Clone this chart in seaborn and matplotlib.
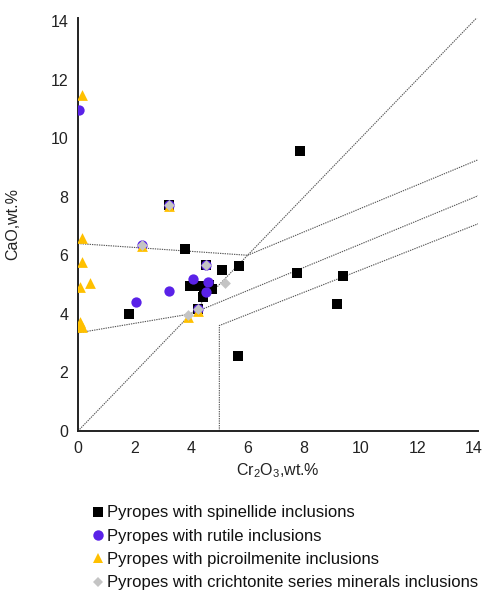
import matplotlib
matplotlib.use("Agg")
import matplotlib.pyplot as plt
from matplotlib.lines import Line2D
import seaborn as sns
import pandas as pd

# Pyrope compositions by inclusion type (Cr2O3 vs CaO, wt.%)
spinellide_x = [7.84, 3.78, 5.69, 5.09, 7.74, 9.36, 9.15, 5.65, 1.81,
                3.95, 4.28, 4.42, 4.45, 4.75, 4.62, 3.22, 4.52, 4.24]
spinellide_y = [9.57, 6.22, 5.63, 5.50, 5.39, 5.29, 4.33, 2.55, 4.00,
                4.95, 4.95, 4.57, 4.75, 4.85, 5.00, 7.72, 5.67, 4.16]

rutile_x = [0.05, 2.04, 3.22, 4.06, 4.60, 4.52, 3.22, 2.26, 4.52, 4.24]
rutile_y = [10.95, 4.42, 4.78, 5.19, 5.08, 4.76, 7.72, 6.35, 5.67, 4.16]

picroilmenite_x = [0.14, 0.14, 0.14, 0.07, 0.42, 0.07, 0.14, 0.10, 3.89, 3.22, 2.26, 4.24]
picroilmenite_y = [11.47, 6.58, 5.77, 4.93, 5.06, 3.72, 3.55, 3.62, 3.90, 7.68, 6.31, 4.10]

crichtonite_x = [3.22, 2.26, 4.52, 4.24, 3.89, 5.19]
crichtonite_y = [7.72, 6.35, 5.67, 4.16, 3.97, 5.05]

# Discrimination boundaries
boundaries = [
    ([0.0, 6.0], [6.4, 6.0]),
    ([0.0, 14.3], [0.0, 14.3]),
    ([6.0, 14.3], [6.0, 9.32]),
    ([0.0, 4.0, 14.3], [3.35, 4.0, 8.09]),
    ([5.0, 5.0, 14.3], [0.0, 3.6, 7.13]),
]

labels = ["Pyropes with spinellide inclusions",
          "Pyropes with rutile inclusions",
          "Pyropes with picroilmenite inclusions",
          "Pyropes with crichtonite series minerals inclusions"]

colors = ["#000000", "#5a22e8", "#ffc000", "#c4c4c4"]

sns.set_theme(style="white")
plt.rcParams["font.family"] = ["Liberation Sans", "DejaVu Sans"]

fig = plt.figure(figsize=(4.84, 5.91), dpi=100)
ax = fig.add_axes([78 / 484, 1 - 431 / 591, 400 / 484, 413 / 591])

for bx, by in boundaries:
    ax.plot(bx, by, color="#555555", lw=0.8, ls=(0, (1.2, 0.9)), zorder=1)

series = [
    (spinellide_x, spinellide_y, "s", 62),
    (rutile_x, rutile_y, "o", 55),
    (picroilmenite_x, picroilmenite_y, "^", 60),
    (crichtonite_x, crichtonite_y, "D", 30),
]
for i, (xs, ys, mk, sz) in enumerate(series):
    df = pd.DataFrame({"Cr2O3": xs, "CaO": ys})
    sns.scatterplot(data=df, x="Cr2O3", y="CaO", marker=mk, s=sz,
                    color=colors[i], linewidth=0, ax=ax, zorder=3 + i)

ax.set_xlim(0, 14.15)
ax.set_ylim(0, 14.1)
ax.set_xticks(range(0, 15, 2))
ax.set_yticks(range(0, 15, 2))
for side in ("top", "right"):
    ax.spines[side].set_visible(False)
for side in ("left", "bottom"):
    ax.spines[side].set_color("#222222")
    ax.spines[side].set_linewidth(1.4)
ax.tick_params(axis="both", direction="inout", length=8, width=1.3,
               color="#222222", labelsize=11.5, labelcolor="#222222", pad=3)

ax.set_xlabel(r"Cr$\mathregular{_2}$O$\mathregular{_3}$,wt.%", fontsize=11.5,
              color="#222222", labelpad=4)
ax.set_ylabel("CaO,wt.%", fontsize=11.5, color="#222222", labelpad=22)

handles = [
    Line2D([], [], ls="none", marker="s", ms=7.5, color=colors[0], mew=0),
    Line2D([], [], ls="none", marker="o", ms=7.5, color=colors[1], mew=0),
    Line2D([], [], ls="none", marker="^", ms=7.5, color=colors[2], mew=0),
    Line2D([], [], ls="none", marker="D", ms=5.0, color=colors[3], mew=0),
]
fig.legend(handles, labels, loc="upper left", bbox_to_anchor=(85 / 484, 1 - 497 / 591),
           frameon=False, fontsize=12, handlelength=0.6, handletextpad=0.2,
           labelspacing=0.5, borderpad=0, labelcolor="#111111")

fig.savefig("out.png", dpi=100)
